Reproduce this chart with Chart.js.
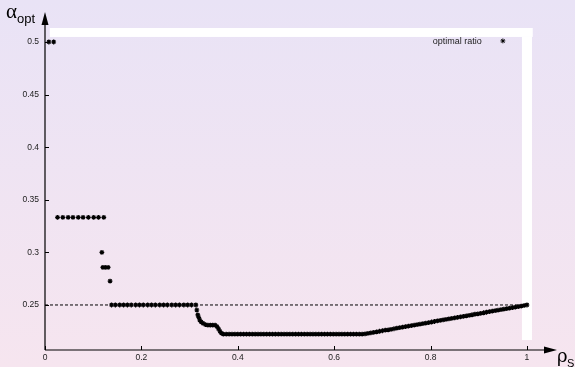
<!DOCTYPE html>
<html>
<head>
<meta charset="utf-8">
<script src="https://cdn.jsdelivr.net/npm/chart.js@4.4.1/dist/chart.umd.min.js"></script>
<style>
  html, body { margin: 0; padding: 0; }
  body {
    width: 575px; height: 367px; overflow: hidden;
    background: linear-gradient(to bottom, #e9e3f6 0%, #f6e5ef 100%);
  }
  canvas { display: block; }
</style>
</head>
<body>
<canvas id="ratio-chart" width="575" height="367"></canvas>
<script>
// rho_s values of the optimal ratio points
var rhoS = [
  0.008, 0.018,
  0.026, 0.037, 0.048, 0.058, 0.069, 0.079, 0.090, 0.101, 0.111, 0.122,
  0.118, 0.120, 0.125, 0.131, 0.135,
  0.138, 0.146, 0.155, 0.163, 0.171, 0.179, 0.188, 0.196, 0.204, 0.213, 0.221,
  0.229, 0.238, 0.246, 0.254, 0.263, 0.271, 0.279, 0.288, 0.296, 0.304, 0.313,
  0.315, 0.317, 0.319, 0.321, 0.324, 0.328, 0.333, 0.338, 0.343, 0.348, 0.353,
  0.357, 0.360, 0.363, 0.366,
  0.370, 0.376, 0.382, 0.388, 0.394, 0.400, 0.406, 0.412, 0.418, 0.424, 0.430,
  0.436, 0.442, 0.448, 0.454, 0.460, 0.466, 0.472, 0.478, 0.484, 0.490, 0.496,
  0.502, 0.508, 0.514, 0.520, 0.526, 0.532, 0.538, 0.544, 0.550, 0.556, 0.562,
  0.568, 0.574, 0.580, 0.586, 0.592, 0.598, 0.604, 0.610, 0.616, 0.622, 0.628,
  0.634, 0.640, 0.646, 0.652, 0.658,
  0.664, 0.670, 0.676, 0.682, 0.688, 0.694, 0.700, 0.706, 0.712, 0.718, 0.724,
  0.730, 0.736, 0.742, 0.748, 0.754, 0.760, 0.766, 0.772, 0.778, 0.784, 0.790,
  0.796, 0.802, 0.808, 0.814, 0.820, 0.826, 0.832, 0.838, 0.844, 0.850, 0.856,
  0.862, 0.868, 0.874, 0.880, 0.886, 0.892, 0.898, 0.904, 0.910, 0.916, 0.922,
  0.928, 0.934, 0.940, 0.946, 0.952, 0.958, 0.964, 0.970, 0.976, 0.982, 0.988,
  0.994, 1.000
];

// alpha_opt for each rho_s above
var alphaOpt = [
  0.5, 0.5,
  0.3333, 0.3333, 0.3333, 0.3333, 0.3333, 0.3333, 0.3333, 0.3333, 0.3333, 0.3333,
  0.3, 0.2857, 0.2857, 0.2857, 0.2727,
  0.25, 0.25, 0.25, 0.25, 0.25, 0.25, 0.25, 0.25, 0.25, 0.25, 0.25,
  0.25, 0.25, 0.25, 0.25, 0.25, 0.25, 0.25, 0.25, 0.25, 0.25, 0.25,
  0.2452, 0.2405, 0.2381, 0.2357, 0.2340, 0.2326, 0.2313, 0.2308, 0.2308, 0.2308, 0.2308,
  0.2295, 0.2273, 0.2250, 0.2232,
  0.2222, 0.2222, 0.2222, 0.2222, 0.2222, 0.2222, 0.2222, 0.2222, 0.2222, 0.2222, 0.2222,
  0.2222, 0.2222, 0.2222, 0.2222, 0.2222, 0.2222, 0.2222, 0.2222, 0.2222, 0.2222, 0.2222,
  0.2222, 0.2222, 0.2222, 0.2222, 0.2222, 0.2222, 0.2222, 0.2222, 0.2222, 0.2222, 0.2222,
  0.2222, 0.2222, 0.2222, 0.2222, 0.2222, 0.2222, 0.2222, 0.2222, 0.2222, 0.2222, 0.2222,
  0.2222, 0.2222, 0.2222, 0.2222, 0.2222,
  0.2225, 0.2230, 0.2235, 0.2240, 0.2245, 0.2250, 0.2255, 0.2260, 0.2264, 0.2269, 0.2274,
  0.2279, 0.2284, 0.2289, 0.2294, 0.2299, 0.2304, 0.2309, 0.2314, 0.2318, 0.2323, 0.2328,
  0.2333, 0.2338, 0.2343, 0.2348, 0.2353, 0.2358, 0.2363, 0.2367, 0.2372, 0.2377, 0.2382,
  0.2387, 0.2392, 0.2397, 0.2402, 0.2407, 0.2412, 0.2416, 0.2421, 0.2426, 0.2431, 0.2436,
  0.2441, 0.2446, 0.2451, 0.2456, 0.2461, 0.2465, 0.2470, 0.2475, 0.2480, 0.2485, 0.2490,
  0.2495, 0.2500
];

// dashed reference line at 1/4
var refRho = [0, 1];
var refAlpha = [0.25, 0.25];

var xTicks = [0, 0.2, 0.4, 0.6, 0.8, 1];
var yTicks = [0.25, 0.3, 0.35, 0.4, 0.45, 0.5];

var points = rhoS.map(function (r, i) { return { x: r, y: alphaOpt[i] }; });
var refLine = refRho.map(function (r, i) { return { x: r, y: refAlpha[i] }; });

var tickFont = { family: "'Liberation Sans', Arial, sans-serif", size: 8.5 };

// white key frame, inward ticks, arrows, axis titles and key
var decoPlugin = {
  id: 'deco',
  beforeDatasetsDraw: function (chart) {
    var c = chart.ctx, x = chart.scales.x, y = chart.scales.y;
    c.save();
    c.fillStyle = '#ffffff';
    // top band
    c.fillRect(x.getPixelForValue(0.01), y.getPixelForValue(0.5133),
      x.getPixelForValue(1.012) - x.getPixelForValue(0.01),
      y.getPixelForValue(0.5048) - y.getPixelForValue(0.5133));
    // right band
    c.fillRect(x.getPixelForValue(0.9896), y.getPixelForValue(0.5048),
      x.getPixelForValue(1.0104) - x.getPixelForValue(0.9896),
      y.getPixelForValue(0.2167) - y.getPixelForValue(0.5048));
    c.restore();
  },
  afterDraw: function (chart) {
    var c = chart.ctx, a = chart.chartArea, x = chart.scales.x, y = chart.scales.y;
    c.save();
    c.strokeStyle = '#000';
    c.fillStyle = '#000';
    c.lineWidth = 1.2;

    // axes
    c.beginPath();
    c.moveTo(a.left, a.bottom);
    c.lineTo(a.left, a.top + 12);
    c.moveTo(a.left, a.bottom);
    c.lineTo(a.right - 8, a.bottom);
    c.stroke();
    // arrow heads
    c.beginPath();
    c.moveTo(a.left, a.top);
    c.lineTo(a.left - 3.5, a.top + 13);
    c.lineTo(a.left + 3.5, a.top + 13);
    c.closePath();
    c.fill();
    c.beginPath();
    c.moveTo(a.right + 4, a.bottom);
    c.lineTo(a.right - 9, a.bottom - 3.5);
    c.lineTo(a.right - 9, a.bottom + 3.5);
    c.closePath();
    c.fill();

    // inward ticks
    c.lineWidth = 1;
    c.beginPath();
    xTicks.forEach(function (v) {
      var px = Math.round(x.getPixelForValue(v)) + 0.5;
      c.moveTo(px, a.bottom);
      c.lineTo(px, a.bottom - 4);
    });
    yTicks.forEach(function (v) {
      var py = Math.round(y.getPixelForValue(v)) + 0.5;
      c.moveTo(a.left, py);
      c.lineTo(a.left + 4, py);
    });
    c.stroke();

    // axis titles
    c.textBaseline = 'alphabetic';
    c.textAlign = 'left';
    c.font = "21px 'Liberation Serif', serif";
    c.fillText('\u03b1', 6, 18);
    c.font = "13px 'Liberation Sans', sans-serif";
    c.fillText('opt', 17, 23);
    c.font = "18px 'DejaVu Serif', serif";
    c.fillText('\u03c1', 557, 362);
    c.font = "11px 'Liberation Sans', sans-serif";
    c.fillText('S', 567, 367);

    // key
    var ds = chart.data.datasets[0];
    c.font = "9px 'Liberation Sans', sans-serif";
    c.fillStyle = '#222';
    c.textAlign = 'right';
    c.textBaseline = 'middle';
    c.fillText(ds.label, x.getPixelForValue(0.906), y.getPixelForValue(0.5));
    c.fillStyle = '#000';
    Chart.helpers.drawPoint(c, {
      pointStyle: ds.pointStyle, radius: ds.pointRadius, borderWidth: ds.borderWidth
    }, x.getPixelForValue(0.95), y.getPixelForValue(0.501));
    c.restore();
  }
};

new Chart(document.getElementById('ratio-chart'), {
  type: 'scatter',
  data: {
    datasets: [
      {
        label: 'optimal ratio',
        data: points,
        pointStyle: 'star',
        pointRadius: 2.4,
        borderWidth: 1.2,
        borderColor: '#000',
        backgroundColor: '#000',
        order: 1
      },
      {
        label: 'quarter',
        type: 'line',
        data: refLine,
        borderColor: '#000',
        borderWidth: 1,
        borderDash: [3, 2],
        pointRadius: 0,
        fill: false,
        order: 2
      }
    ]
  },
  options: {
    responsive: false,
    animation: false,
    layout: { padding: { top: 12, right: 22, left: 0, bottom: 0 } },
    plugins: {
      legend: { display: false },
      tooltip: { enabled: false }
    },
    scales: {
      x: {
        type: 'linear',
        min: 0,
        max: 1.054,
        afterBuildTicks: function (s) { s.ticks = xTicks.map(function (v) { return { value: v }; }); },
        afterFit: function (s) { s.height = 17; },
        grid: { display: false, drawTicks: false },
        border: { display: false },
        ticks: {
          padding: 3,
          color: '#222',
          font: tickFont,
          maxRotation: 0,
          callback: function (v) { return String(v); }
        }
      },
      y: {
        type: 'linear',
        min: 0.2072,
        max: 0.5285,
        afterBuildTicks: function (s) { s.ticks = yTicks.map(function (v) { return { value: v }; }); },
        afterFit: function (s) { s.width = 45; },
        grid: { display: false, drawTicks: false },
        border: { display: false },
        ticks: {
          padding: 6,
          color: '#222',
          font: tickFont,
          callback: function (v) { return String(v); }
        }
      }
    }
  },
  plugins: [decoPlugin]
});
</script>
</body>
</html>
